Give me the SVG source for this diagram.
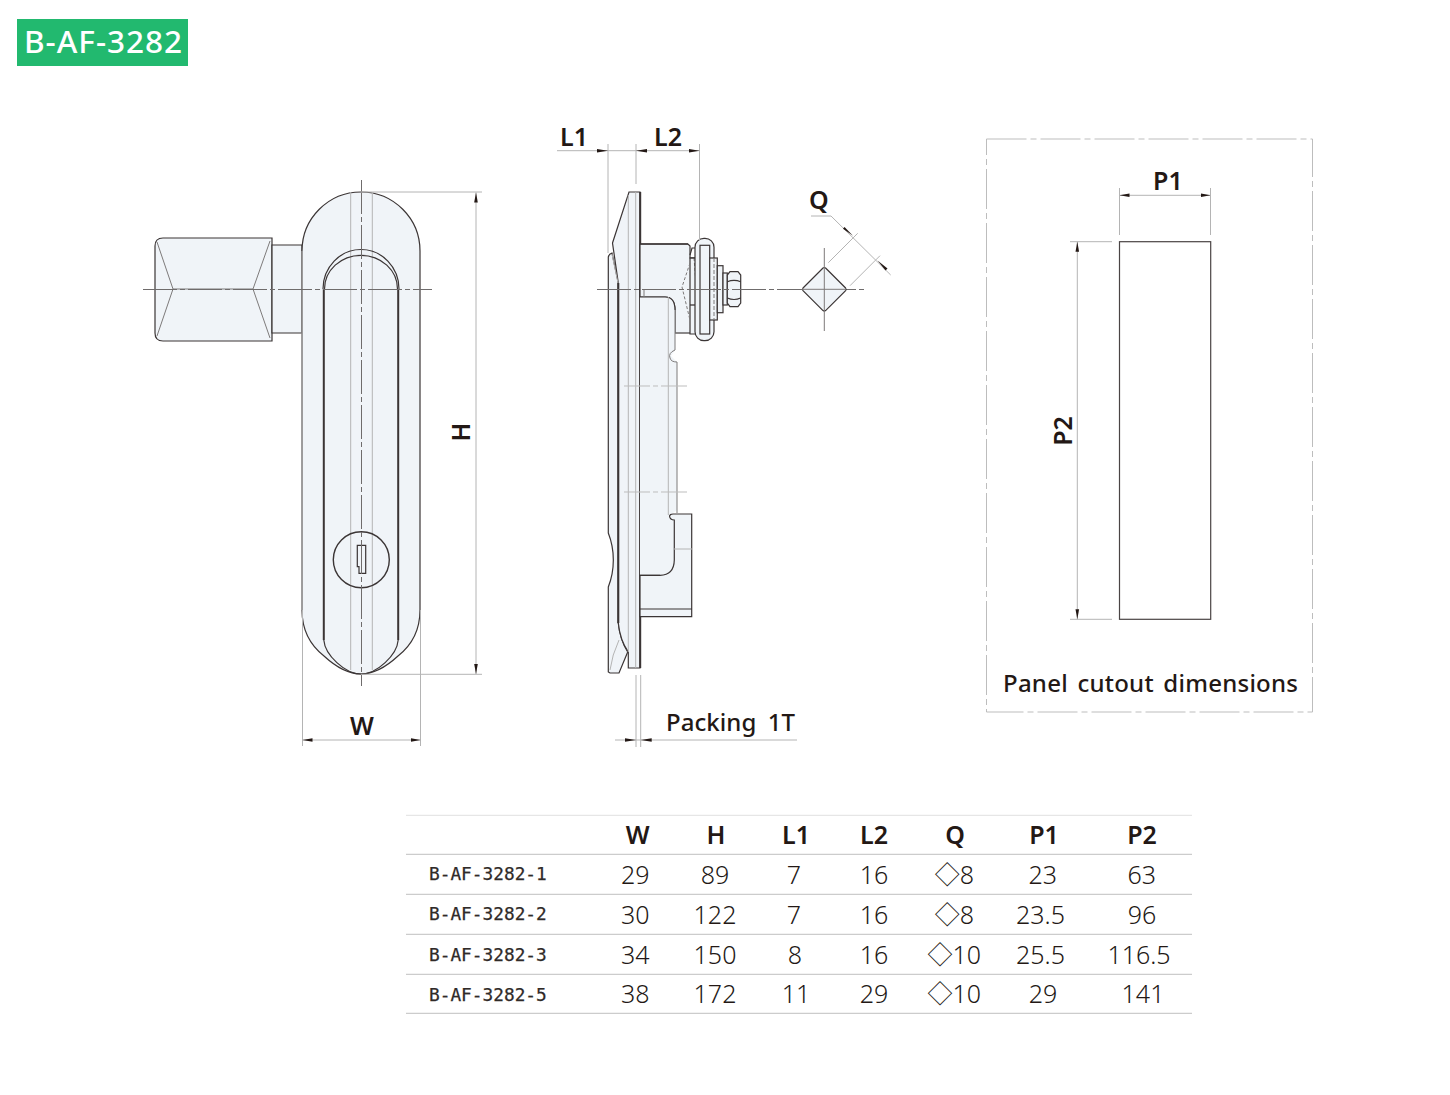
<svg xmlns="http://www.w3.org/2000/svg" width="1450" height="1095" viewBox="0 0 1450 1095">
<style>
text{font-family:"Noto Sans","Noto Sans CJK KR",sans-serif;fill:#231815}
.lab{font-size:25px;font-weight:600}
.val{font-size:25px;font-weight:300;text-anchor:middle}
.hd{font-size:25px;font-weight:600;text-anchor:middle}
.row{font-family:"DejaVu Sans Mono","Noto Sans",monospace;font-size:17.8px;font-weight:400;fill:#2f2a28;stroke:#2f2a28;stroke-width:.25}
.s{fill:none;stroke:#3b3535;stroke-width:1.2}
.t{fill:none;stroke:#3b3535;stroke-width:2}
.m{fill:none;stroke:#7d7a7a;stroke-width:1}
.g{fill:none;stroke:#b4b4b4;stroke-width:1}
.f{fill:#f0f4f8;stroke:#3b3535;stroke-width:1.2}
.n{fill:#f0f4f8;stroke:none}
.c{fill:none;stroke:#6f6c6c;stroke-width:1;stroke-dasharray:34 3 5 3}
.d{fill:none;stroke:#bdbdbd;stroke-width:1;stroke-dasharray:26 3 5 3}
.dd{fill:none;stroke:#bdbdbd;stroke-width:1;stroke-dasharray:40 4 6 4}
.a{fill:none;stroke:#b4b4b4;stroke-width:1;marker-start:url(#ar);marker-end:url(#ar)}
.tl{stroke:#cccccc;stroke-width:1.2}
</style>
<defs>
<marker id="ar" markerUnits="userSpaceOnUse" markerWidth="11" markerHeight="5" refX="10" refY="2.5" orient="auto-start-reverse"><path d="M0 0.7L10 2.5L0 4.3Z" fill="#231815"/></marker>
</defs>

<g id="badge">
<rect x="17" y="19" width="171" height="47" fill="#22b96f"/>
<text x="24" y="53" font-size="31.5" textLength="158" style="fill:#fff;font-weight:500">B-AF-3282</text>
</g>

<g id="front-view">
<path class="f" d="M155 246Q155 238 163 238H272V341H163Q155 341 155 333Z"/>
<path class="m" d="M157 242L173 289L157 336M270 241L253 289L270 338M173 289H253"/>
<path class="f" d="M272 245H302V333H272Z"/>
<path class="f" d="M302 251A59 59 0 0 1 420 251V610C420 630 412 645 398 656C385 668 372 674 361 674C350 674 337 668 324 656C310 645 302 630 302 610Z"/>
<path class="g" d="M302 251V610"/>
<path class="g" d="M350.7 192V670M372.3 192V670"/>
<path class="s" d="M323 289A38 39.500 0 0 1 399 289"/>
<path class="s" d="M324.500 289A36.500 33.700 0 0 1 397.500 289"/>
<path class="t" d="M323.800 289V640M398.200 289V640"/>
<path class="s" d="M323.800 640C325 655 345 674 361 674C377 674 397 655 398.200 640"/>
<circle cx="361.300" cy="559.700" r="28" fill="none" stroke="#3b3535" stroke-width="1.400"/>
<path class="s" d="M357.300 545.300H365.700V573.300H359V566.700H357.300Z"/>
<path class="c" d="M143 289.500H432M361.500 180V686"/>
</g>

<g id="side-view">
<path class="f" d="M608.300 257Q609 254 612 253L618.300 283V623Q620 640 627.700 652L619 673H610L608.300 672V587C615 570 615 550 608.300 533Z"/>
<path class="f" d="M612.500 243L629 192H640V668H628.300V652Q620 640 618.300 623V283Z"/>
<path class="g" d="M628.300 195V652M635.700 192V668"/>
<path class="t" d="M640.200 192V668M618.300 283V623"/>
<path class="g" d="M612 254L618 283M610 670Q612 655 619 640"/>
<path class="f" d="M640 244H688L690 246V258H695V333H675V310Q675 297 665 297H640Z"/>
<path d="M640 244H688" fill="none" stroke="#3b3535" stroke-width="1.400"/>
<path class="n" d="M640 297H665Q675 297 675 310V350L671 356L677 362V510L670 515L674.300 520V560Q674 575 660 575.300H640Z"/>
<path class="m" d="M675 310V350Q668 353 670 358Q671 362 677 362V513"/>
<path class="s" d="M640 297H665Q675 297 675 310"/>
<path class="f" d="M640 575.300H660Q674 575 674.300 560V520Q670 520 669.500 516Q670 514 673 514H691.700V616.700H640Z"/>
<path class="s" d="M640 609H692M640 575.300H660"/>
<path class="g" d="M674 549H692M668.300 297V515"/>
<path class="m" d="M644 289V297M690 333H675"/>
<path class="d" d="M624 386H687M624 492H687"/>
<path class="f" d="M690 258H700V334H690Z"/>
<path d="M690 305H700" fill="none" stroke="#3b3535" stroke-width="1.300"/>
<path class="m" d="M690 263L682 287L690 320M694 258L700 334" stroke-dasharray="3 2"/>
<path class="s" d="M690 255L692 248H700V258H690"/>
<rect class="f" x="695" y="238.300" width="19" height="102.400" rx="9"/>
<rect class="f" x="700" y="245.300" width="9.700" height="88.700"/>
<rect class="f" x="709.700" y="258" width="7.600" height="62"/>
<path class="m" d="M714 258V320" stroke-dasharray="4 2"/>
<rect class="f" x="717.300" y="265.700" width="5.700" height="47"/>
<rect class="f" x="723" y="273" width="4.300" height="32"/>
<path class="f" d="M727.300 275L730 271.700H738L740.700 275V303L738 306.700H730L727.300 303Z"/>
<path class="s" d="M727.300 281.700Q734 279 740.700 281.700M727.300 298Q734 301 740.700 298"/>
<path class="c" d="M597 289.500H866"/>
</g>

<g id="section-q">
<path class="f" d="M803 288L823 268Q824.300 267 825.600 268L845.600 288Q846.600 289.300 845.600 290.600L825.600 310.600Q824.300 311.600 823 310.600L803 290.600Q802 289.300 803 288Z"/>
<path class="m" d="M824.300 248V331M802 289.300H846"/>
</g>

<g id="panel-cutout">
<path class="dd" d="M986.500 139H1312.500V712H986.500Z"/>
<rect x="1119.500" y="241.700" width="91.200" height="377.600" fill="#fff" stroke="#4a4444" stroke-width="1.200"/>
</g>

<g id="connectors">
<path class="g" d="M361 192H482M361 674.300H482M302.500 610V746M420.500 610V746"/>
<path class="a" d="M476 192.500V674"/>
<path class="a" d="M302.500 740H420.500"/>
<path class="g" d="M557 150.700H699.500M608 144V253M636 144V184M699.500 144V240"/>
<path d="M608 150.700L597 149V152.400Z" fill="#231815"/>
<path d="M636 150.700L647 149V152.400Z" fill="#231815"/>
<path d="M699.500 150.700L689 149V152.400Z" fill="#231815"/>
<path class="g" d="M615 740H797M636 675V747M640.700 675V747"/>
<path d="M636 740L625 738.300V741.700Z" fill="#231815"/>
<path d="M640.700 740L651.700 738.300V741.700Z" fill="#231815"/>
<path class="g" d="M811 216H831L890.700 275M828.300 262.700L857.700 233.300M850 285.700L880 255.700"/>
<path d="M853 235.700L844.500 227L843 228.700Z" fill="#231815"/>
<path d="M877.500 260.500L887.500 268.500L885.500 270.500Z" fill="#231815"/>
<path class="a" d="M1119.500 195.300H1210.500"/>
<path class="g" d="M1119.500 188V235M1210.500 188V235M1070 241.700H1112M1070 619.300H1112"/>
<path class="a" d="M1077.300 241.700V619.300"/>
</g>

<g id="dimension-labels">
<text class="lab" x="560" y="146">L1</text>
<text class="lab" x="654" y="146">L2</text>
<text class="lab" x="809" y="209">Q</text>
<text class="lab" x="350" y="735">W</text>
<text class="lab" text-anchor="middle" transform="translate(470 432) rotate(-90)">H</text>
<text class="lab" text-anchor="middle" transform="translate(1072 431) rotate(-90)">P2</text>
<text class="lab" x="1153" y="190">P1</text>
<text class="lab" x="666" y="731" textLength="129" style="font-weight:500;font-size:24px;word-spacing:5px">Packing 1T</text>
<text class="lab" x="1003" y="692" textLength="295" style="font-weight:500;font-size:24px;word-spacing:3px">Panel cutout dimensions</text>
</g>

<g id="table">
<path class="tl" d="M406 815.300H1192" style="stroke:#e6e6e6"/>
<path class="tl" d="M406 854.300H1192M406 894.300H1192M406 934.300H1192M406 974.300H1192M406 1013.300H1192"/>
<text class="hd" x="637.700" y="843.500">W</text><text class="hd" x="716" y="843.500">H</text><text class="hd" x="796" y="843.500">L1</text><text class="hd" x="874" y="843.500">L2</text><text class="hd" x="955" y="843.500">Q</text><text class="hd" x="1044" y="843.500">P1</text><text class="hd" x="1142" y="843.500">P2</text>
<text class="row" x="429" y="880">B-AF-3282-1</text>
<text class="row" x="429" y="920">B-AF-3282-2</text>
<text class="row" x="429" y="961">B-AF-3282-3</text>
<text class="row" x="429" y="1000.500">B-AF-3282-5</text>
<text class="val" x="635.300" y="884">29</text><text class="val" x="715" y="884">89</text><text class="val" x="794" y="884">7</text><text class="val" x="874" y="884">16</text><text class="val" x="954.300" y="884">◇8</text><text class="val" x="1042.700" y="884">23</text><text class="val" x="1141.700" y="884">63</text>
<text class="val" x="635.300" y="923.500">30</text><text class="val" x="715" y="923.500">122</text><text class="val" x="794" y="923.500">7</text><text class="val" x="874" y="923.500">16</text><text class="val" x="954.300" y="923.500">◇8</text><text class="val" x="1040.500" y="923.500">23.5</text><text class="val" x="1142" y="923.500">96</text>
<text class="val" x="635.300" y="963.500">34</text><text class="val" x="715" y="963.500">150</text><text class="val" x="795" y="963.500">8</text><text class="val" x="874" y="963.500">16</text><text class="val" x="954.300" y="963.500">◇10</text><text class="val" x="1040.500" y="963.500">25.5</text><text class="val" x="1139" y="963.500">116.5</text>
<text class="val" x="635.300" y="1003">38</text><text class="val" x="715" y="1003">172</text><text class="val" x="796" y="1003">11</text><text class="val" x="874" y="1003">29</text><text class="val" x="954.300" y="1003">◇10</text><text class="val" x="1043" y="1003">29</text><text class="val" x="1143" y="1003">141</text>
</g>
</svg>
